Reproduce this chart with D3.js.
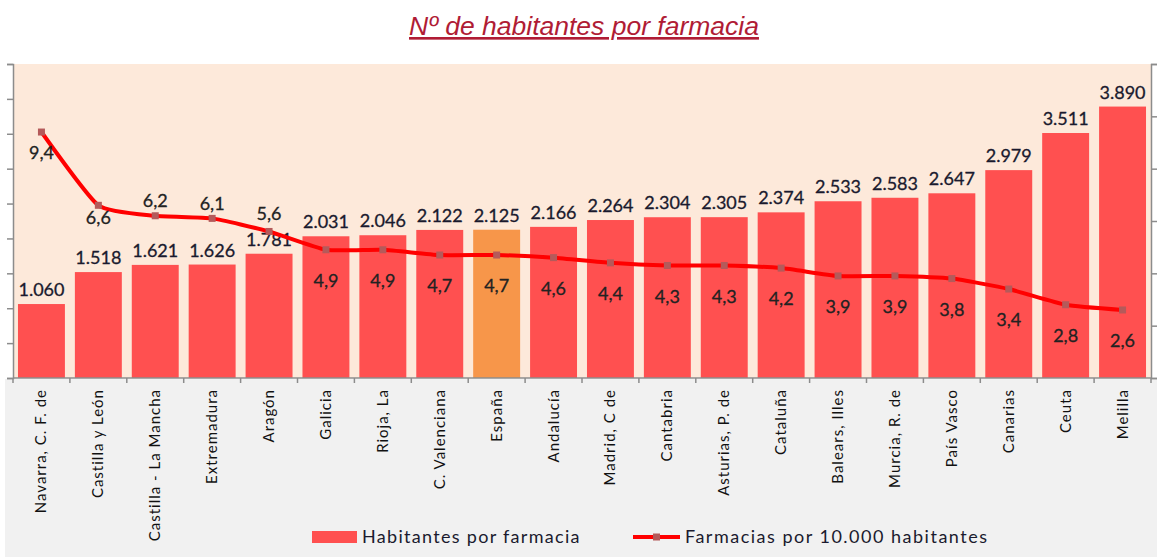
<!DOCTYPE html>
<html>
<head>
<meta charset="utf-8">
<script src="https://cdn.jsdelivr.net/npm/d3@7"></script>
<style>
  body { margin: 0; background: #fff; }
  svg { display: block; }
</style>
</head>
<body>
<div id="chart"></div>
<script>
// Data
const categories = [
  "Navarra, C. F. de", "Castilla y León", "Castilla - La Mancha", "Extremadura",
  "Aragón", "Galicia", "Rioja, La", "C. Valenciana", "España", "Andalucía",
  "Madrid, C de", "Cantabria", "Asturias, P. de", "Cataluña", "Balears, Illes",
  "Murcia, R. de", "País Vasco", "Canarias", "Ceuta", "Melilla"
];
const habitantes = [1060, 1518, 1621, 1626, 1781, 2031, 2046, 2122, 2125, 2166,
                    2264, 2304, 2305, 2374, 2533, 2583, 2647, 2979, 3511, 3890];
const farmacias  = [9.4, 6.6, 6.2, 6.1, 5.6, 4.9, 4.9, 4.7, 4.7, 4.6,
                    4.4, 4.3, 4.3, 4.2, 3.9, 3.9, 3.8, 3.4, 2.8, 2.6];
const highlight = "España";
const leftTicks  = d3.range(0, 4501, 500);
const rightTicks = d3.range(0, 13, 2);

// Chart size
const width = 1161, height = 557;
const plot = { left: 13, right: 1151, top: 64, bottom: 378 };

const svg = d3.select("#chart").append("svg")
  .attr("width", width)
  .attr("height", height);

// backgrounds
svg.append("rect")
  .attr("x", 5).attr("y", plot.bottom + 1)
  .attr("width", 1152).attr("height", height - plot.bottom)
  .attr("fill", "#f1f1f1");
svg.append("rect")
  .attr("x", plot.left).attr("y", plot.top)
  .attr("width", plot.right - plot.left).attr("height", plot.bottom - plot.top)
  .attr("fill", "#fde9da");

// Title
svg.append("text")
  .attr("x", 584).attr("y", 35)
  .attr("text-anchor", "middle")
  .style("font-family", "Liberation Sans, Arial, sans-serif")
  .style("font-size", "26.5px")
  .style("font-style", "italic")
  .style("text-decoration", "underline")
  .attr("fill", "#b01c35")
  .text("Nº de habitantes por farmacia");

// Scales
const x = d3.scaleBand()
  .domain(categories)
  .range([plot.left, plot.right])
  .paddingInner(0.175)
  .paddingOuter(0.0875);
const yLeft = d3.scaleLinear().domain([0, 4500]).range([plot.bottom, plot.top]);
const yRight = d3.scaleLinear().domain([0, 12]).range([plot.bottom, plot.top]);

const axisColor = "#8c8c8c";
const labelFont = "Lato, sans-serif";
const textColor = "#1a1a2e";

// Left axis (no labels)
const gl = svg.append("g")
  .attr("transform", `translate(${plot.left},0)`)
  .call(d3.axisLeft(yLeft).tickValues(leftTicks).tickSize(6).tickFormat(""));
// Right axis (no labels)
const gr = svg.append("g")
  .attr("transform", `translate(${plot.right},0)`)
  .call(d3.axisRight(yRight).tickValues(rightTicks).tickSize(6).tickFormat(""));
[gl, gr].forEach(g => {
  g.select(".domain").attr("stroke", axisColor).attr("stroke-width", 1.5);
  g.selectAll(".tick line").attr("stroke", axisColor).attr("stroke-width", 1.5);
});

// Bars
svg.selectAll(".bar")
  .data(categories)
  .join("rect")
    .attr("class", "bar")
    .attr("x", d => x(d))
    .attr("width", x.bandwidth())
    .attr("y", (d, i) => yLeft(habitantes[i]))
    .attr("height", (d, i) => plot.bottom - yLeft(habitantes[i]))
    .attr("fill", d => d === highlight ? "#f7964a" : "#ff5050");

// Bottom axis: ticks at band boundaries
const step = x.step();
const gx = svg.append("g");
gx.append("line")
  .attr("x1", plot.left).attr("x2", plot.right)
  .attr("y1", plot.bottom).attr("y2", plot.bottom)
  .attr("stroke", axisColor).attr("stroke-width", 1.5);
gx.selectAll(".xt")
  .data(d3.range(categories.length + 1))
  .join("line")
    .attr("class", "xt")
    .attr("x1", i => plot.left + i * step)
    .attr("x2", i => plot.left + i * step)
    .attr("y1", plot.bottom).attr("y2", plot.bottom + 5)
    .attr("stroke", axisColor).attr("stroke-width", 1.5);

// Category labels rotated
svg.selectAll(".xlab")
  .data(categories)
  .join("text")
    .attr("class", "xlab")
    .attr("transform", d => `translate(${x(d) + x.bandwidth() / 2 + 5},${plot.bottom + 11}) rotate(-90)`)
    .attr("text-anchor", "end")
    .style("font-family", labelFont)
    .style("font-size", "15px")
    .style("letter-spacing", "1px")
    .attr("fill", "#111")
    .text(d => d);

// Bar value labels
const fmtThousands = d3.formatLocale({ decimal: ",", thousands: ".", grouping: [3], currency: ["", ""] }).format(",d");
svg.selectAll(".blab")
  .data(categories)
  .join("text")
    .attr("class", "blab")
    .attr("x", d => x(d) + x.bandwidth() / 2)
    .attr("y", (d, i) => yLeft(habitantes[i]) - 8)
    .attr("text-anchor", "middle")
    .style("font-family", labelFont)
    .style("font-size", "18px")
    .attr("fill", textColor)
    .attr("stroke", textColor).attr("stroke-width", 0.3)
    .text((d, i) => fmtThousands(habitantes[i]));

// Line series
const pts = categories.map((c, i) => ({ c, v: farmacias[i] }));
const line = d3.line()
  .x(d => x(d.c) + x.bandwidth() / 2)
  .y(d => yRight(d.v))
  .curve(d3.curveCardinal.tension(0.5));

svg.append("path")
  .datum(pts)
  .attr("fill", "none")
  .attr("stroke", "#ff0000")
  .attr("stroke-width", 4)
  .attr("d", line);

svg.selectAll(".mk")
  .data(pts)
  .join("rect")
    .attr("class", "mk")
    .attr("x", d => x(d.c) + x.bandwidth() / 2 - 3.5)
    .attr("y", d => yRight(d.v) - 3.5)
    .attr("width", 7).attr("height", 7)
    .attr("fill", "#b45a5a");

// line label placement (offset of label centre from point)
const labelOffset = { "Navarra, C. F. de": 21, "Castilla y León": 12,
  "Castilla - La Mancha": -15, "Extremadura": -15, "Aragón": -18 };
svg.selectAll(".llab")
  .data(pts)
  .join("text")
    .attr("class", "llab")
    .attr("x", d => x(d.c) + x.bandwidth() / 2)
    .attr("y", d => yRight(d.v) + (labelOffset[d.c] ?? 31))
    .attr("dy", "0.35em")
    .attr("text-anchor", "middle")
    .style("font-family", labelFont)
    .style("font-size", "18px")
    .attr("fill", "#222")
    .attr("stroke", "#222").attr("stroke-width", 0.3)
    .text(d => d3.format(".1f")(d.v).replace(".", ","));

// Legend
const lg = svg.append("g");
lg.append("rect")
  .attr("x", 312).attr("y", 531).attr("width", 45).attr("height", 12)
  .attr("fill", "#ff5050");
lg.append("text")
  .attr("x", 362).attr("y", 543)
  .style("font-family", labelFont).style("font-size", "18px")
  .style("letter-spacing", "1.3px")
  .attr("fill", textColor)
  .text("Habitantes por farmacia");
lg.append("line")
  .attr("x1", 633).attr("x2", 680).attr("y1", 537).attr("y2", 537)
  .attr("stroke", "#ff0000").attr("stroke-width", 4);
lg.append("rect")
  .attr("x", 653).attr("y", 533.5).attr("width", 7).attr("height", 7)
  .attr("fill", "#b45a5a");
lg.append("text")
  .attr("x", 685).attr("y", 543)
  .style("font-family", labelFont).style("font-size", "18px")
  .style("letter-spacing", "1.5px")
  .attr("fill", textColor)
  .text("Farmacias por 10.000 habitantes");
</script>
</body>
</html>
